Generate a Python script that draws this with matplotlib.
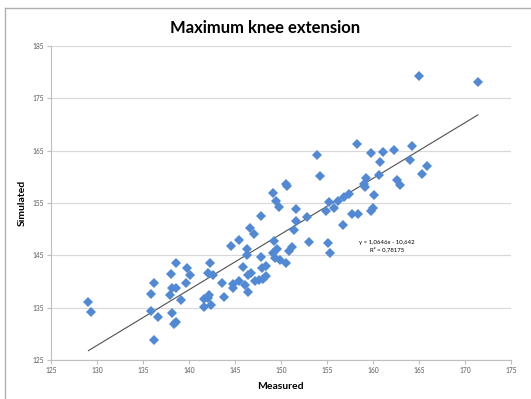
import matplotlib
matplotlib.use("Agg")
import matplotlib.pyplot as plt
from matplotlib.lines import Line2D

# values
measured = [129.1, 129.4, 135.9, 136.2, 135.9, 136.7, 136.2, 138.0, 138.2, 138.6,
            139.2, 138.2, 138.4, 138.6, 139.7, 141.6, 141.7, 142.2, 142.1, 142.4,
            143.6, 143.8, 144.8, 144.8, 145.4, 146.1, 146.4, 147.2, 147.6,
            144.6, 146.3, 146.3, 138.6, 139.8, 138.1, 140.1, 142.3, 142.1, 142.6,
            145.9, 146.4,
            146.7, 147.1, 145.5, 151.4, 149.3, 153.1, 155.1, 155.3, 156.7, 149.6,
            149.2, 149.4, 149.9, 150.6, 151.2, 150.9, 147.8, 148.0, 148.4, 146.8,
            148.4, 148.1,
            158.3, 159.8, 153.9, 154.3, 150.6, 150.7, 149.1, 149.5, 149.8, 147.8,
            151.6, 151.7, 152.8, 155.2, 154.9, 155.8, 156.2, 156.9, 157.4, 157.7,
            158.4, 159.2, 159.0, 159.1, 160.0, 159.8,
            161.1, 162.3, 164.3, 164.0, 160.8, 165.9, 165.3, 160.7, 162.6, 162.9,
            160.1, 165.0, 171.4]
simulated = [136.1, 134.2, 137.7, 139.7, 134.4, 133.2, 128.8, 137.5, 138.7, 138.7,
             136.4, 134.0, 131.8, 132.3, 139.7, 136.7, 135.2, 137.4, 136.9, 135.5,
             139.8, 137.1, 138.7, 139.5, 140.1, 139.3, 138.0, 140.1, 140.3,
             146.8, 146.3, 145.1, 143.5, 142.6, 141.4, 141.3, 143.6, 141.6, 141.2,
             142.8, 141.2,
             150.2, 149.1, 147.9, 149.9, 147.8, 147.6, 147.3, 145.4, 150.8, 146.2,
             145.4, 144.4, 144.1, 143.5, 146.5, 145.8, 144.6, 142.5, 142.9, 141.6,
             141.1, 140.5,
             166.3, 164.5, 164.2, 160.2, 158.6, 158.2, 157.0, 155.4, 154.3, 152.6,
             153.8, 151.5, 152.4, 155.1, 153.5, 154.1, 155.4, 156.1, 156.7, 152.9,
             152.9, 159.7, 158.6, 158.0, 154.0, 153.4,
             164.7, 165.2, 165.9, 163.3, 162.8, 162.1, 160.5, 160.3, 159.4, 158.4,
             156.5, 179.3, 178.1]

slope = 1.0646
intercept = -10.642
eq_text = "y = 1,0646x - 10,642\nR² = 0,78175"

x_ticks = list(range(125, 180, 5))
y_ticks = list(range(125, 190, 10))

plt.rcParams['font.family'] = ['Lato', 'DejaVu Sans']

fig = plt.figure(figsize=(5.31, 3.99), dpi=100)
ax = fig.add_axes([0.0955, 0.0977, 0.8668, 0.787])

# trendline over the measured range
x0, x1 = min(measured), max(measured)
ax.plot([x0, x1], [slope * x0 + intercept, slope * x1 + intercept],
        color='#505050', lw=0.8, zorder=2)
ax.plot(measured, simulated, 'D', color='#5289d4', markersize=4.8,
        markeredgewidth=0, zorder=3)

ax.set_xlim(125, 175)
ax.set_ylim(125, 185)
ax.set_xticks(x_ticks)
ax.set_yticks(y_ticks)
ax.tick_params(labelsize=4.8, labelcolor='#595959', color='#bfbfbf',
               length=3, width=0.8, pad=2)
ax.grid(axis='y', color='#d9d9d9', lw=0.9)
ax.set_axisbelow(True)
for side in ['top', 'right']:
    ax.spines[side].set_visible(False)
for side in ['left', 'bottom']:
    ax.spines[side].set_color('#bfbfbf')
    ax.spines[side].set_linewidth(0.8)

ax.set_xlabel('Measured', fontsize=7.5, fontweight='bold', labelpad=6)
ax.set_ylabel('Simulated', fontsize=7.5, fontweight='bold', labelpad=4)
fig.text(0.5, 0.93, 'Maximum knee extension', ha='center', va='center',
         fontsize=12, fontweight='bold')
ax.text(161.5, 146.8, eq_text, ha='center', va='center', fontsize=4.3,
        linespacing=1.4)

# outer chart frame
fig.add_artist(Line2D([5 / 531, 1], [1 - 8 / 399, 1 - 8 / 399],
                      transform=fig.transFigure, color='#b0b0b0', lw=1))
fig.add_artist(Line2D([5 / 531, 5 / 531], [0, 1 - 8 / 399],
                      transform=fig.transFigure, color='#b0b0b0', lw=1))

fig.savefig('out.png', dpi=100)
